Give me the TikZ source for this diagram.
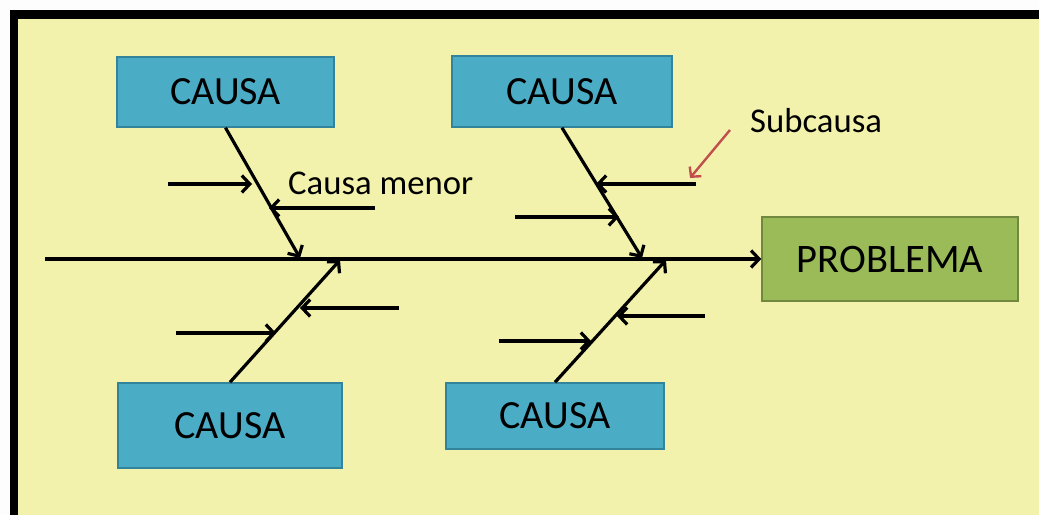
\documentclass[tikz,border=0pt]{standalone}
\usepackage{fontspec}
\setmainfont{Carlito}
\usetikzlibrary{arrows.meta}
\definecolor{paper}{HTML}{F3F2AC}
\definecolor{margin}{HTML}{FDFDFD}
\definecolor{causafill}{HTML}{4BACC6}
\definecolor{causaline}{HTML}{31849B}
\definecolor{probfill}{HTML}{9BBB59}
\definecolor{probline}{HTML}{71893F}
\definecolor{pointer}{HTML}{C0504D}
\tikzset{
  causabox/.style={draw=causaline, fill=causafill, line width=1.5bp, inner sep=0pt,
    font=\fontsize{40bp}{42bp}\selectfont},
  probbox/.style={draw=probline, fill=probfill, line width=1.5bp, inner sep=0pt,
    font=\fontsize{40.5bp}{42bp}\selectfont, minimum width=256bp, minimum height=84bp},
  bone/.style={line width=3.2bp, -{Straight Barb[length=8bp,width=17bp,line width=3.2bp]}},
  twig/.style={line width=3.2bp, -{Straight Barb[length=8bp,width=17bp,line width=3.2bp]}},
  note/.style={font=\fontsize{34.7bp}{36bp}\selectfont, inner sep=0pt},
}
\begin{document}
\begin{tikzpicture}[x=1bp,y=-1bp]
\useasboundingbox (0,0) rectangle (1039,515);
% page: pale margin, yellow field, black bands along the top and left
\fill[margin] (0,0) rectangle (1039,515);
\fill[paper] (18,19) rectangle (1039,515);
\fill[black] (10,10) rectangle (1039,19);
\fill[black] (10,10) rectangle (18,515);

% boxes
\node[causabox, minimum width=217bp, minimum height=70bp] (tl) at (225.5,92) {CAUSA};
\node[causabox, minimum width=220bp, minimum height=71bp] (tr) at (562,91.5) {CAUSA};
\node[causabox, minimum width=224bp, minimum height=85bp] (bl) at (230,425.5) {CAUSA};
\node[causabox, minimum width=218bp, minimum height=66bp] (br) at (555,416) {CAUSA};
\node[probbox] (prob) at (890,259) {PROBLEMA};

% labels
\node[note, anchor=west] (menor) at (288,183) {Causa menor};
\node[note, anchor=west] (sub) at (750,121) {Subcausa};

% spine
\coordinate (tail) at (45,259);
\draw[bone] (tail) -- (prob.west);

% joints on the spine
\coordinate (j1) at (300,258);
\coordinate (j2) at (340,260);
\coordinate (j3) at (642,258);
\coordinate (j4) at (666,260);

% main bones
\draw[bone] (tl.south) -- (j1);
\draw[bone] (bl.north) -- (j2);
\draw[bone] (tr.south) -- (j3);
\draw[bone] (br.north) -- (j4);

% minor causes, upper left
\coordinate (a1s) at (168,184); \coordinate (a1e) at (252,184);
\coordinate (a2s) at (375,208); \coordinate (a2e) at (269,208);
\draw[twig] (a1s) -- (a1e);
\draw[twig] (a2s) -- (a2e);

% minor causes, lower left
\coordinate (b1s) at (176,333); \coordinate (b1e) at (276,333);
\coordinate (b2s) at (399,308); \coordinate (b2e) at (300,308);
\draw[twig] (b1s) -- (b1e);
\draw[twig] (b2s) -- (b2e);

% minor causes, upper right
\coordinate (c1s) at (696,184); \coordinate (c1e) at (596,184);
\coordinate (c2s) at (515,217); \coordinate (c2e) at (619,217);
\draw[twig] (c1s) -- (c1e);
\draw[twig] (c2s) -- (c2e);

% minor causes, lower right
\coordinate (d1s) at (499,341); \coordinate (d1e) at (591,341);
\coordinate (d2s) at (705,316); \coordinate (d2e) at (617,316);
\draw[twig] (d1s) -- (d1e);
\draw[twig] (d2s) -- (d2e);

% pointer to the sub-cause
\coordinate (ptr) at (730,130);
\coordinate (ptrend) at (690,178);
\draw[pointer, line width=2.4bp, -{Straight Barb[length=7bp,width=15bp,line width=2.4bp]}] (ptr) -- (ptrend);
\end{tikzpicture}
\end{document}
